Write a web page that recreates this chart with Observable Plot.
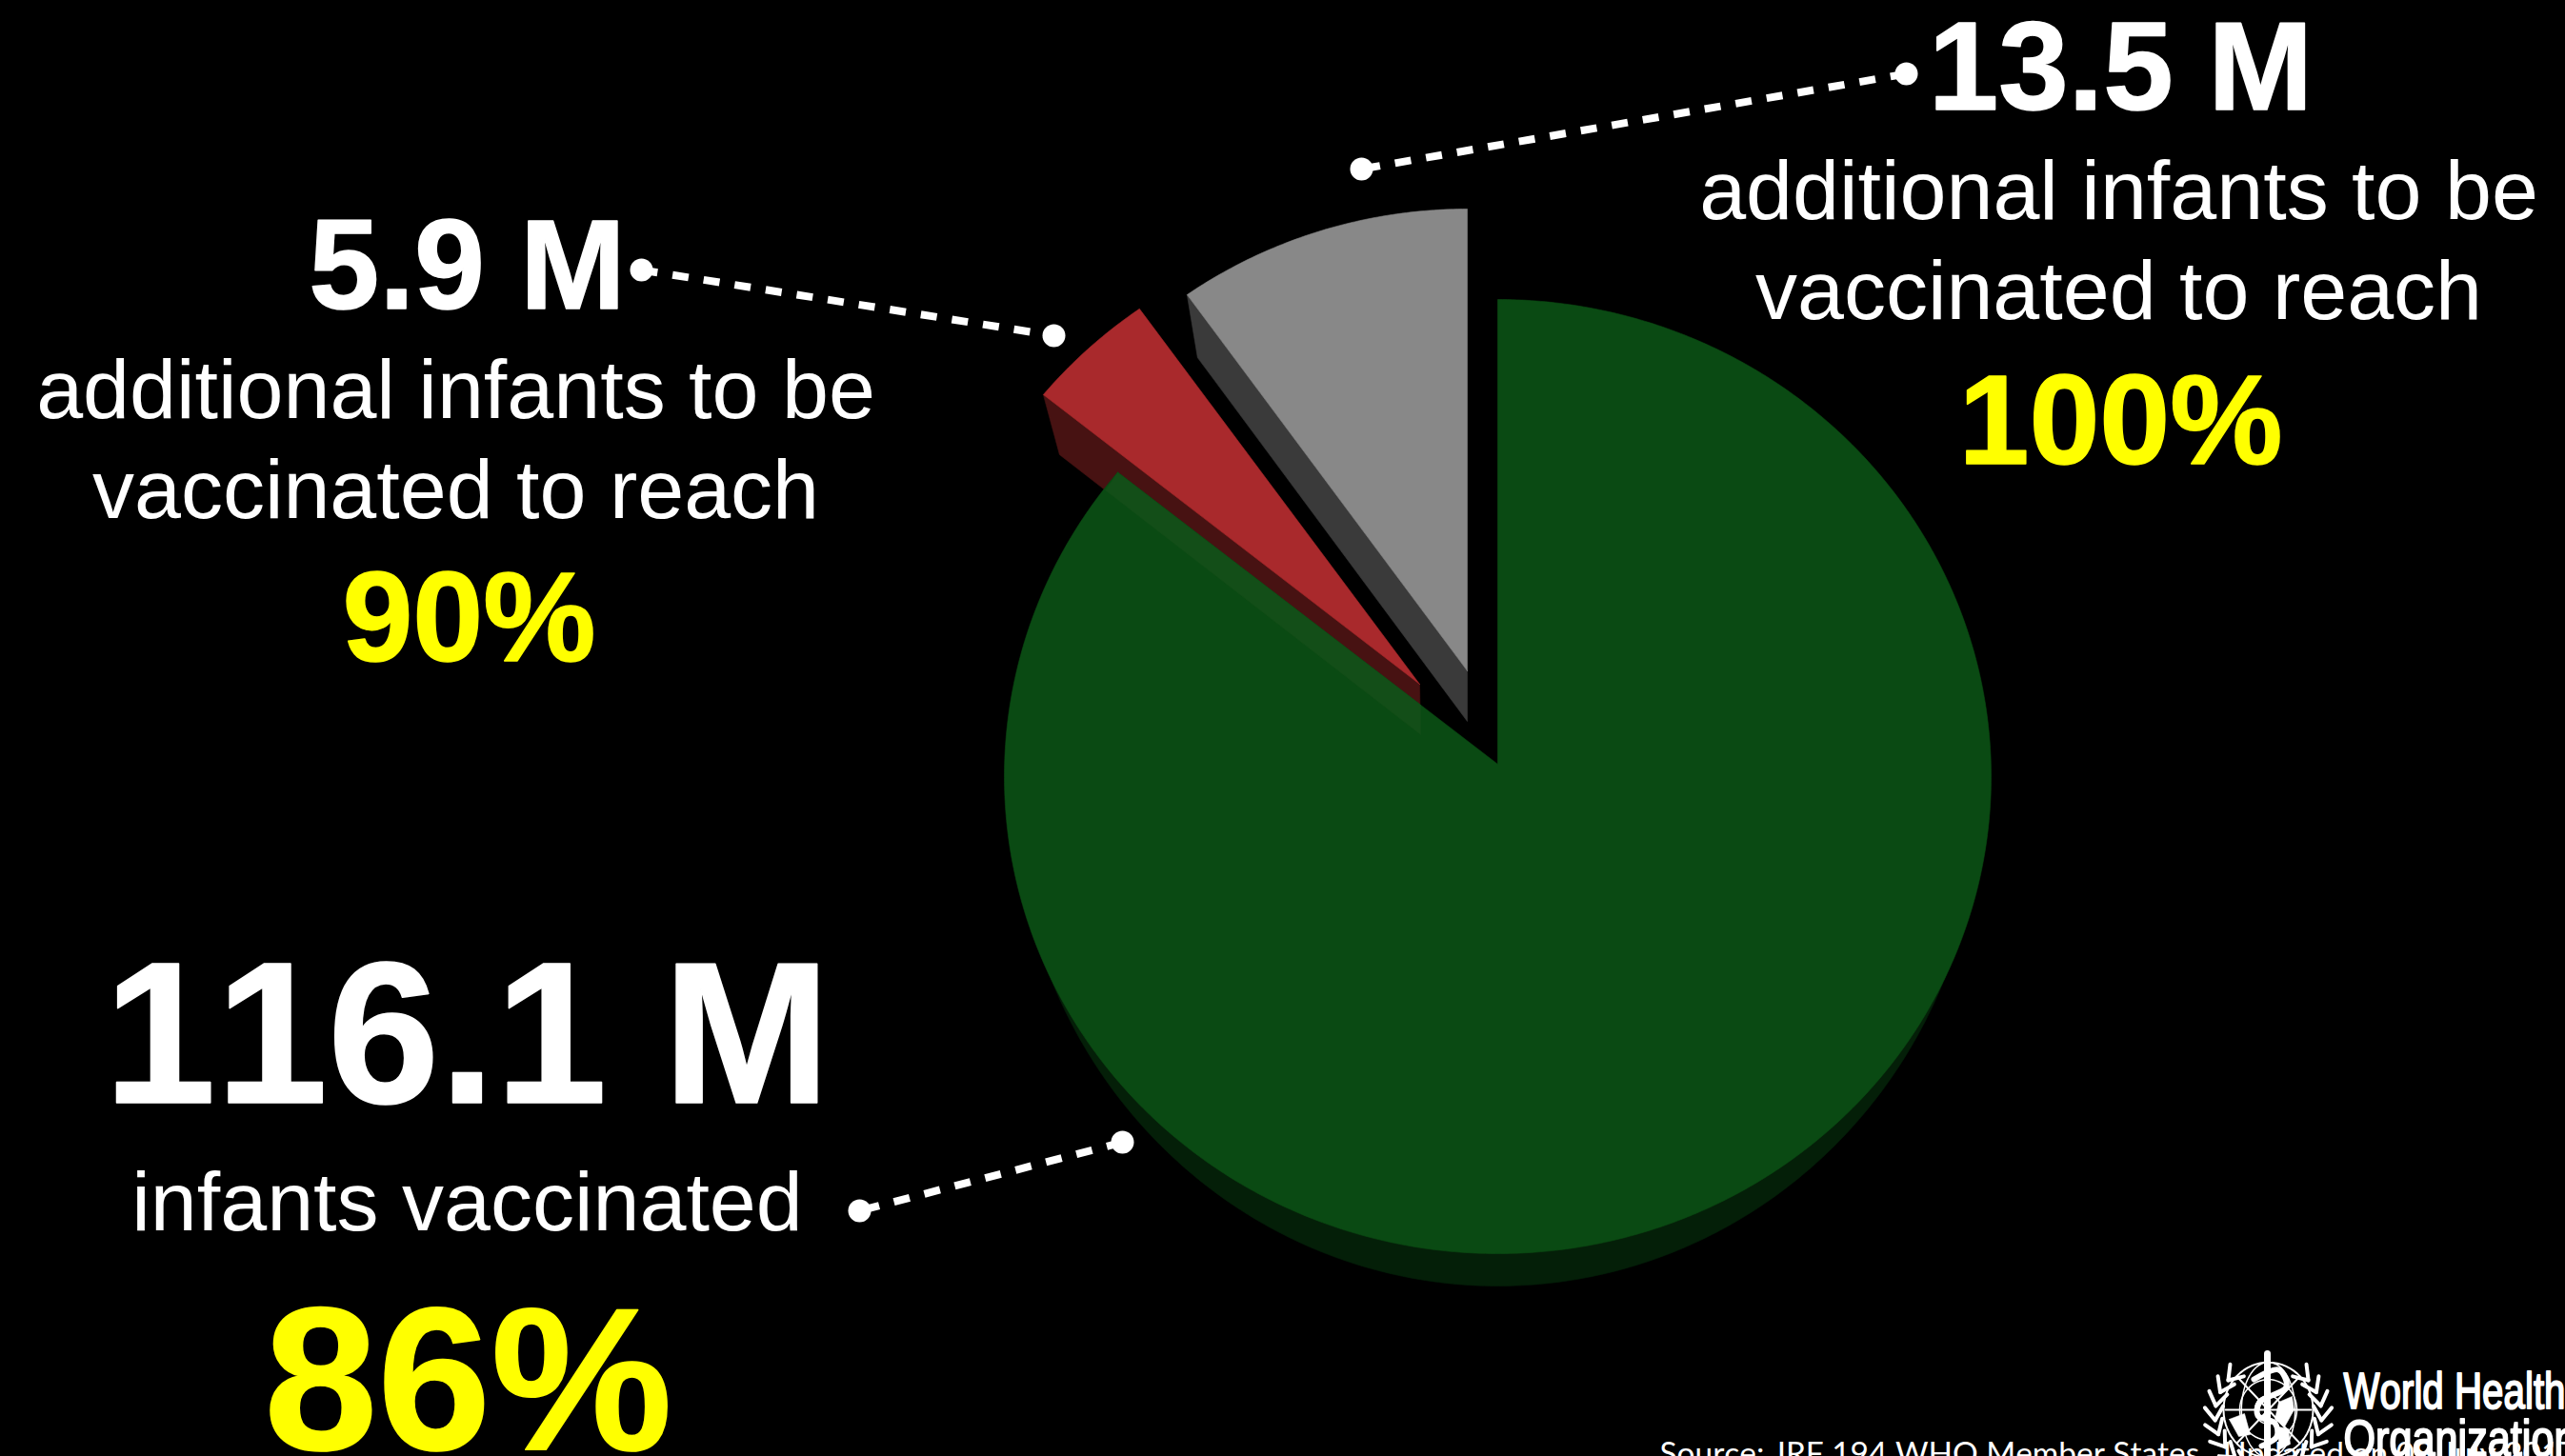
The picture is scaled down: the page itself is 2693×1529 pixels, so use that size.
<!DOCTYPE html>
<html>
<head>
<meta charset="utf-8">
<script src="https://cdn.jsdelivr.net/npm/d3@7"></script>
<script src="https://cdn.jsdelivr.net/npm/@observablehq/plot@0.6"></script>
<style>
  html, body { margin: 0; padding: 0; background: #000; overflow: hidden; }
  svg { display: block; }
</style>
</head>
<body>
<div id="chart"></div>
<script>
// Infant immunisation coverage, millions of infants
const groups = ["Vaccinated", "To reach 90%", "To reach 100%"];
const infants = [116.1, 5.9, 13.5];
const amountLabels = ["116.1 M", "5.9 M", "13.5 M"];
const coverageLabels = ["86%", "90%", "100%"];
const additionalLine1 = "additional infants to be";
const additionalLine2 = "vaccinated to reach";
const vaccinatedLine = "infants vaccinated";
const sourceLine = "Source: JRF 194 WHO Member States.  Updated on 08 July 2017";
const orgLines = ["World Health", "Organization"];

const W = 2693, H = 1529;
const SANS = "'Liberation Sans', Arial, sans-serif";

// Pie wedges, clockwise from twelve o'clock
const arcs = d3.pie().sort(null)(infants);

// Point where a ray leaving the apex at pie angle t meets the tilted rim ellipse.
// The angle is foreshortened along with the disc.
function rim(g, t) {
  const dx = Math.sin(t) * g.rx, dy = -Math.cos(t) * g.ry;
  const ox = (g.ax - g.cx) / g.rx, oy = (g.ay - g.cy) / g.ry;
  const px = dx / g.rx, py = dy / g.ry;
  const a = px * px + py * py, b = 2 * (ox * px + oy * py), c = ox * ox + oy * oy - 1;
  const s = (-b + Math.sqrt(b * b - 4 * a * c)) / (2 * a);
  return [g.ax + s * dx, g.ay + s * dy];
}
function sector(g, arc) {
  const steps = Math.ceil((arc.endAngle - arc.startAngle) / 0.01);
  const pts = [[g.ax, g.ay]];
  for (let i = 0; i <= steps; i++) pts.push(rim(g, arc.startAngle + (arc.endAngle - arc.startAngle) * i / steps));
  pts.push([g.ax, g.ay]);
  return pts;
}

// Top faces and lower rims of the wedges
const greenTop = {ax: 1572, ay: 802, cx: 1572, cy: 815, rx: 518, ry: 501};
const greenBase = {ax: 1572, ay: 855, cx: 1572, cy: 830, rx: 507, ry: 520};
const redTop = {ax: 1490, ay: 718, cx: 1490, cy: 731, rx: 513, ry: 497};
const grayTop = {ax: 1540, ay: 704, cx: 1540, cy: 717, rx: 513, ry: 498};

// Only the front of the main wedge's side shows below its face
const greenSide = {startAngle: 1.5, endAngle: 4.8};

// Cut wall on the left of an exploded wedge
function wall(g, t, apexDrop, rimDrop) {
  const r = rim(g, t);
  return [[g.ax, g.ay], r, [r[0] + rimDrop[0], r[1] + rimDrop[1]], [g.ax + apexDrop[0], g.ay + apexDrop[1]], [g.ax, g.ay]];
}
const redWall = wall(redTop, arcs[1].startAngle, [1, 53], [17, 63]);
const grayWall = wall(grayTop, arcs[2].startAngle, [0, 53], [11, 66]);

// Where the red wall shows faintly through the green face
const greenCorner = rim(greenTop, arcs[0].endAngle);
const wallLow = redWall[2], wallEnd = redWall[3];
const f = (greenCorner[0] - 13 - wallLow[0]) / (wallEnd[0] - wallLow[0]);
const showThroughStart = [wallLow[0] + f * (wallEnd[0] - wallLow[0]), wallLow[1] + f * (wallEnd[1] - wallLow[1])];
const g2 = (wallEnd[0] - greenCorner[0]) / (greenTop.ax - greenCorner[0]);
const showThrough = [greenCorner, showThroughStart, wallEnd,
  [wallEnd[0], greenCorner[1] + g2 * (greenTop.ay - greenCorner[1])], greenCorner];

// Leader lines: the dash pattern starts at the first point
const leaders = [
  [[2001, 77], [1429, 177]],
  [[673, 283], [1106, 352]],
  [[1178, 1199], [902, 1271]]
];

const face = (pts, fill, extra = {}) => Plot.line(pts, {x: d => d[0], y: d => d[1], fill, stroke: fill, strokeWidth: 0.6, curve: "linear", ...extra});
const label = (text, x, y, fontSize, fill = "#fff", fontWeight = "bold", family = SANS, textAnchor = "middle", extra = {}) =>
  Plot.text([text], {x: () => x, y: () => y, text: d => d, fontSize, fill, fontWeight, fontFamily: family, textAnchor, lineAnchor: "bottom", ...extra});
const heavy = (fill, strokeWidth = 1.5) => ({stroke: fill, strokeWidth});

// WHO emblem
const ex = 2381, ey = 1480;
const ring = r => d3.range(0, 6.35, 0.1).map(t => [ex + r * Math.sin(t), ey - r * 1.06 * Math.cos(t)]);
const meridian = k => d3.range(0, 6.35, 0.1).map(t => [ex + 47 * k * Math.sin(t), ey - 50 * Math.cos(t)]);
const leaves = [];
for (const side of [-1, 1]) {
  for (let a = 0.85; a < 3.1; a += 0.27) {
    const px = ex + side * 56 * Math.sin(a), py = ey + 6 - 56 * Math.cos(a);
    const tx = -side * Math.cos(a), ty = -Math.sin(a);
    for (const spread of [-0.6, 0.6]) {
      const c = Math.cos(spread), s = Math.sin(spread);
      leaves.push({x1: px, y1: py, x2: px + 17 * (tx * c - ty * s), y2: py + 17 * (tx * s + ty * c)});
    }
  }
}
const serpent = [[2366, 1448], [2392, 1438], [2400, 1456], [2372, 1472], [2370, 1486], [2388, 1494], [2390, 1508], [2374, 1518]];
const landEast = [[2392, 1472], [2406, 1466], [2408, 1480], [2398, 1498], [2388, 1490], [2392, 1472]];
const landWest = [[2340, 1490], [2356, 1484], [2362, 1506], [2350, 1508], [2340, 1490]];
const landSouth = [[2392, 1498], [2402, 1500], [2404, 1516], [2392, 1522], [2392, 1498]];
const thin = {x: d => d[0], y: d => d[1], stroke: "#fff", strokeWidth: 2, curve: "linear"};

const chart = Plot.plot({
  width: W,
  height: H,
  margin: 0,
  style: {background: "#000", overflow: "hidden", fontKerning: "none"},
  x: {domain: [0, W], range: [0, W], axis: null},
  y: {domain: [0, H], range: [0, H], axis: null},
  marks: [
    // Exploded wedges with their cut walls
    face(grayWall, "#3a3a3a"),
    face(sector(grayTop, arcs[2]), "#888888"),
    face(redWall, "#471212"),
    face(sector(redTop, arcs[1]), "#a9292c"),
    // Main wedge
    face(sector(greenBase, greenSide), "#041f08"),
    face(sector(greenTop, arcs[0]), "#0a4a13"),
    face(showThrough, "#134e18"),

    // Leader lines
    ...leaders.map(l => Plot.line(l, {x: d => d[0], y: d => d[1], stroke: "#fff", strokeWidth: 8, strokeDasharray: "17 16", strokeLinecap: "butt", curve: "linear"})),
    Plot.dot(leaders.flat(), {x: d => d[0], y: d => d[1], r: 12, fill: "#fff", stroke: "none"}),

    // Top right group
    label(amountLabels[2], 2226, 114, 132, "#fff", "bold", SANS, "middle", heavy("#fff")),
    label(additionalLine1, 2224, 229, 88, "#fff", "normal"),
    label(additionalLine2, 2224, 334, 88, "#fff", "normal"),
    label(coverageLabels[2], 2226, 486, 133, "#ffff00", "bold", SANS, "middle", heavy("#ffff00")),

    // Left group
    label(amountLabels[1], 490, 323, 133, "#fff", "bold", SANS, "middle", heavy("#fff")),
    label(additionalLine1, 478, 438, 88, "#fff", "normal"),
    label(additionalLine2, 478, 543, 88, "#fff", "normal"),
    label(coverageLabels[1], 492, 693, 133, "#ffff00", "bold", SANS, "middle", heavy("#ffff00")),

    // Lower left group
    label(amountLabels[0], 490, 1157, 211, "#fff", "bold", SANS, "middle", heavy("#fff")),
    label(vaccinatedLine, 490, 1291, 88, "#fff", "normal"),
    label(coverageLabels[0], 491, 1521, 214, "#ffff00", "bold", SANS, "middle", heavy("#ffff00")),

    // WHO emblem and wordmark
    Plot.link(leaves, {x1: "x1", y1: "y1", x2: "x2", y2: "y2", stroke: "#fff", strokeWidth: 4, strokeLinecap: "round"}),
    Plot.line(ring(47), thin),
    Plot.line(ring(30), {...thin, strokeWidth: 1.5}),
    Plot.line(ring(14), {...thin, strokeWidth: 1.5}),
    Plot.line(meridian(0.6), {...thin, strokeWidth: 1.5}),
    Plot.line([[ex - 45, ey], [ex + 45, ey]], thin),
    Plot.line([[ex - 33, ey - 35], [ex + 33, ey + 35]], thin),
    Plot.line([[ex + 33, ey - 35], [ex - 33, ey + 35]], thin),
    face(landEast, "#fff"),
    face(landWest, "#fff"),
    face(landSouth, "#fff"),
    Plot.line([[2380, 1421], [2380, 1529]], {x: d => d[0], y: d => d[1], stroke: "#fff", strokeWidth: 7, strokeLinecap: "round"}),
    Plot.line(serpent, {x: d => d[0], y: d => d[1], stroke: "#fff", strokeWidth: 6, curve: "catmull-rom"}),
    label(orgLines[0], 2460, 1478, 54, "#fff", "normal", SANS, "start", heavy("#fff", 2)),
    label(orgLines[1], 2460, 1528, 54, "#fff", "normal", SANS, "start", heavy("#fff", 2)),

    // Source note, running off the bottom edge
    label(sourceLine, 1742, 1537, 33.4, "#fff", "normal", "Lato, sans-serif", "start")
  ]
});

// The wordmark is set in condensed letters
d3.select(chart).selectAll("text").each(function () {
  const t = this.textContent;
  if (t === orgLines[0]) d3.select(this).attr("textLength", 233).attr("lengthAdjust", "spacingAndGlyphs");
  if (t === orgLines[1]) d3.select(this).attr("textLength", 245).attr("lengthAdjust", "spacingAndGlyphs");
});
document.getElementById("chart").appendChild(chart);
</script>
</body>
</html>
